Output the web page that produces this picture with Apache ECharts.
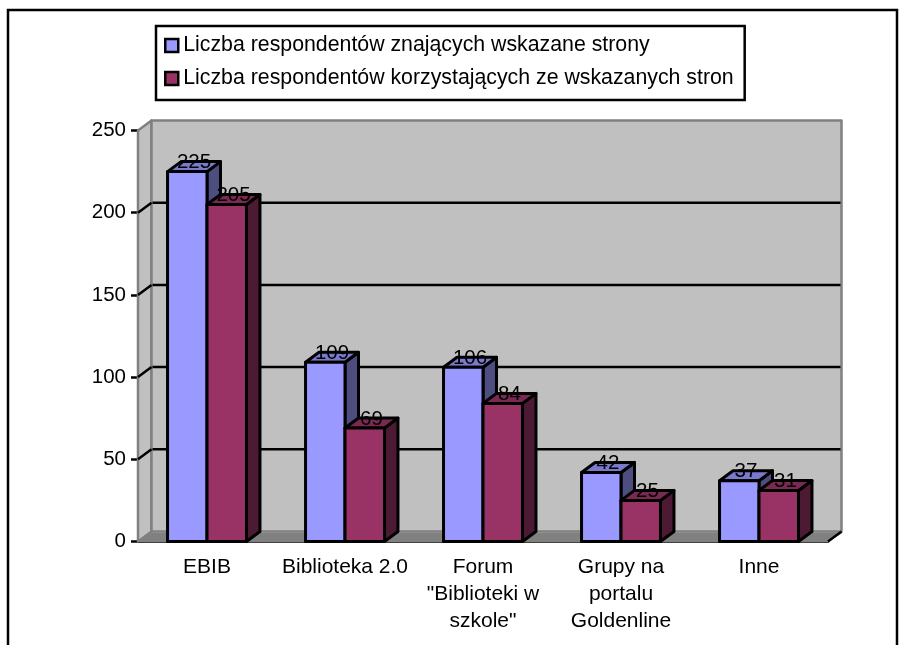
<!DOCTYPE html>
<html>
<head>
<meta charset="utf-8">
<script src="https://cdn.jsdelivr.net/npm/echarts@6/dist/echarts.min.js"></script>
<style>
  html, body { margin: 0; padding: 0; background: #fff; }
  #chart { width: 911px; height: 645px; }
</style>
</head>
<body>
<div id="chart"></div>
<script>
let categories = ["EBIB", "Biblioteka 2.0", "Forum\n\"Biblioteki w\nszkole\"", "Grupy na\nportalu\nGoldenline", "Inne"];
let known = [225, 109, 106, 42, 37];
let used = [205, 69, 84, 25, 31];
let yTicks = [0, 50, 100, 150, 200, 250];
let nameKnown = "Liczba respondentów znających wskazane strony";
let nameUsed = "Liczba respondentów korzystających ze wskazanych stron";

const FONT = "'Liberation Sans', Arial, sans-serif";
const DX = 13.5, DY = -10;

function line(x1, y1, x2, y2, color, width) {
  return {
    type: "line",
    shape: { x1: x1, y1: y1, x2: x2, y2: y2 },
    style: { stroke: color, lineWidth: width }
  };
}

function poly(points, fill, stroke, width) {
  return {
    type: "polygon",
    shape: { points: points },
    style: { fill: fill, stroke: stroke, lineWidth: width, lineJoin: "round" }
  };
}

// back wall, side wall, floor and the gridlines that run round them
function renderWalls(params, api) {
  let r = params.coordSys;
  let x0 = r.x, x1 = r.x + r.width, top = r.y, bottom = r.y + r.height;
  let kids = [
    poly([[x0, top], [x0 + DX, top + DY], [x0 + DX, bottom + DY], [x0, bottom]], "#c0c0c0", "#808080", 2.5),
    poly([[x0 + DX, top + DY], [x1 + DX, top + DY], [x1 + DX, bottom + DY], [x0 + DX, bottom + DY]], "#c0c0c0", "#808080", 2.5),
    poly([[x0, bottom], [x0 + DX, bottom + DY + 1.5], [x1 + DX, bottom + DY + 1.5], [x1, bottom]], "#808080", "#808080", 1)
  ];
  yTicks.forEach(function (v) {
    if (v === 0 || v === 250) return;
    let y = api.coord([0, v])[1];
    kids.push(line(x0, y, x0 + DX, y + DY, "#000", 2.5));
    kids.push(line(x0 + DX + 1, y + DY, x1 + DX - 1, y + DY, "#000", 2.5));
  });
  kids.push(line(x1, bottom, x1 + DX, bottom + DY, "#000", 2.5));
  return { type: "group", children: kids };
}

function makeBars(colors, offset) {
  return function (params, api) {
    let p = api.coord([api.value(0), api.value(1)]);
    let base = api.coord([api.value(0), 0]);
    let w = api.size([1, 0])[0] * 0.286;
    let x = p[0] + offset * w, y = p[1], b = base[1];
    return {
      type: "group",
      children: [
        poly([[x + w, y], [x + w + DX, y + DY], [x + w + DX, b + DY], [x + w, b]], colors[2], "#000", 3),
        poly([[x, y], [x + DX, y + DY], [x + w + DX, y + DY], [x + w, y]], colors[1], "#000", 3),
        poly([[x, y], [x + w, y], [x + w, b], [x, b]], colors[0], "#000", 3),
        {
          type: "text",
          z2: 10,
          style: {
            x: x + w / 2 + DX / 2,
            y: y + DY + 1,
            text: String(api.value(1)),
            fill: "#000",
            font: "20.5px " + FONT,
            textAlign: "center",
            textVerticalAlign: "middle"
          }
        }
      ]
    };
  };
}

let option = {
  animation: false,
  backgroundColor: "#fff",
  textStyle: { fontFamily: FONT },
  graphic: [
    {
      type: "rect",
      z: -10,
      shape: { x: 8, y: 10, width: 889, height: 700 },
      style: { fill: "#fff", stroke: "#000", lineWidth: 2.5 }
    }
  ],
  legend: {
    left: 156,
    top: 26,
    orient: "vertical",
    padding: [9, 11, 11, 8],
    itemGap: 12,
    itemWidth: 13,
    itemHeight: 13,
    icon: "rect",
    backgroundColor: "#fff",
    borderColor: "#000",
    borderWidth: 2.5,
    data: [nameKnown, nameUsed],
    textStyle: { color: "#000", fontSize: 21.3, fontFamily: FONT },
    itemStyle: { borderColor: "#000", borderWidth: 2.5 }
  },
  grid: { left: 138, top: 130.5, width: 690, height: 411 },
  xAxis: {
    type: "category",
    data: categories,
    axisLine: { lineStyle: { color: "#000", width: 2.5 } },
    axisTick: { length: 7, lineStyle: { color: "#000", width: 2.5 } },
    axisLabel: { color: "#000", fontSize: 21, fontFamily: FONT, lineHeight: 27, margin: 12, interval: 0 }
  },
  yAxis: {
    type: "value",
    min: 0,
    max: 250,
    interval: 50,
    axisLine: { show: true, lineStyle: { color: "#000", width: 2.5 } },
    axisTick: { show: true, length: 7, lineStyle: { color: "#000", width: 2.5 } },
    axisLabel: { color: "#000", fontSize: 20.5, fontFamily: FONT, margin: 12 },
    splitLine: { show: false }
  },
  series: [
    {
      type: "custom",
      name: "walls",
      z: 1,
      silent: true,
      data: [[0, 0]],
      renderItem: renderWalls
    },
    {
      type: "custom",
      name: nameKnown,
      z: 2,
      itemStyle: { color: "#9999ff" },
      encode: { x: 0, y: 1 },
      data: categories.map(function (c, i) { return [i, known[i]]; }),
      renderItem: makeBars(["#9999ff", "#7a7acc", "#4d4d80"], -1)
    },
    {
      type: "custom",
      name: nameUsed,
      z: 3,
      itemStyle: { color: "#993366" },
      encode: { x: 0, y: 1 },
      data: categories.map(function (c, i) { return [i, used[i]]; }),
      renderItem: makeBars(["#993366", "#7a2952", "#4d1a33"], 0)
    }
  ]
};

let chart = echarts.init(document.getElementById("chart"), null, { renderer: "canvas" });
chart.setOption(option);
</script>
</body>
</html>
